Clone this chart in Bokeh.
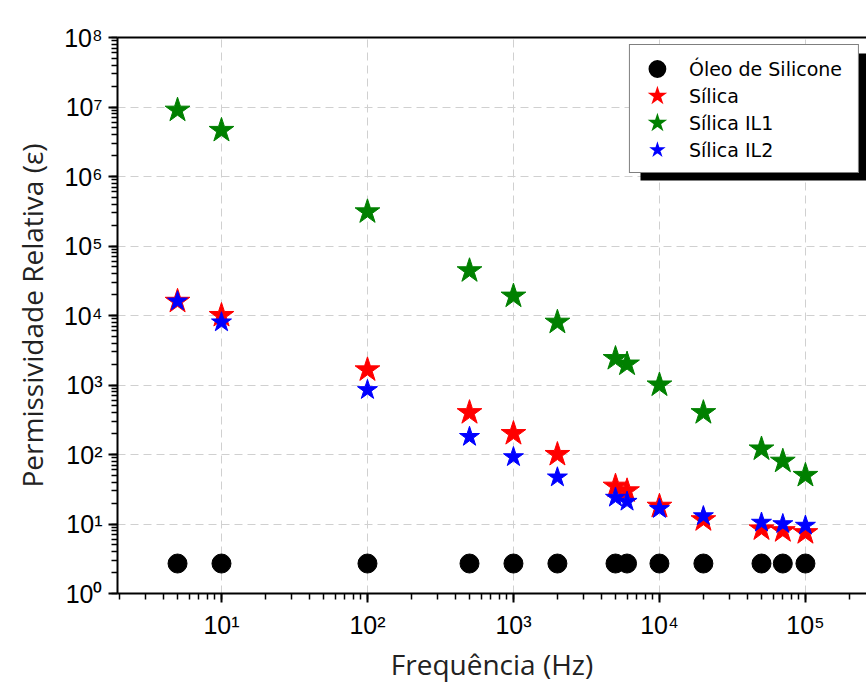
from bokeh.plotting import figure
from bokeh.models import (Legend, LegendItem, BoxAnnotation, LogAxis, LogTicker,
                          FixedTicker, CustomJSTickFormatter)
from bokeh.embed import file_html
from bokeh.resources import INLINE

freq = [5, 10, 100, 500, 1000, 2000, 5000, 6000, 10000, 20000, 50000, 70000, 100000]
oleo = [2.7] * 13
silica = [1.6e4, 1.0e4, 1650, 400, 200, 100, 35, 30, 18, 11.5, 8.5, 8.0, 7.5]
silica_il1 = [9.0e6, 4.6e6, 3.1e5, 4.4e4, 1.9e4, 8.0e3, 2.4e3, 2.0e3, 1.0e3, 400, 120, 80, 50]
silica_il2 = [1.6e4, 8.0e3, 850, 180, 92, 47, 24, 21, 16.5, 13, 10.5, 10, 9.5]
labels = ["Óleo de Silicone", "Sílica", "Sílica IL1", "Sílica IL2"]
colors = ["black", "#ff0000", "#008000", "#0000ff"]

p = figure(width=866, height=685, x_axis_type="log", y_axis_type="log",
           x_range=(1.94, 2.62e5), y_range=(1, 1e8),
           output_backend="svg", toolbar_location=None,
           min_border_left=117, min_border_right=0, min_border_top=37, min_border_bottom=91)

p.outline_line_color = None
p.background_fill_color = "white"

p.scatter(freq, oleo, marker="circle", size=19, color=colors[0])
p.scatter(freq, silica, marker="star", size=26, color=colors[1])
p.scatter(freq, silica_il1, marker="star", size=26, color=colors[2])
p.scatter(freq, silica_il2, marker="star", size=21, color=colors[3])

# hidden legend-key renderers (same data; thick outlines enlarge the legend keys)
k0 = p.scatter(freq, oleo, marker="circle", color=colors[0], line_width=7, visible=False)
k1 = p.scatter(freq, silica, marker="star", color=colors[1], line_width=3, line_join="miter", visible=False)
k2 = p.scatter(freq, silica_il1, marker="star", color=colors[2], line_width=3, line_join="miter", visible=False)
k3 = p.scatter(freq, silica_il2, marker="star", color=colors[3], line_width=2, line_join="miter", visible=False)

sup = CustomJSTickFormatter(code="""
const s = {'0':'\u2070','1':'\u00b9','2':'\u00b2','3':'\u00b3','4':'\u2074','5':'\u2075','6':'\u2076','7':'\u2077','8':'\u2078','9':'\u2079','-':'\u207b'};
const e = Math.round(Math.log10(tick));
return '10' + String(e).split('').map(c => s[c]).join('');
""")

for ax in (p.xaxis[0], p.yaxis[0]):
    ax.axis_line_width = 2
    ax.axis_line_color = "black"
    ax.major_tick_line_width = 2
    ax.minor_tick_line_width = 1.5
    ax.major_tick_in = 0
    ax.minor_tick_in = 0
    ax.major_tick_out = 9
    ax.minor_tick_out = 6
    ax.formatter = sup
    ax.major_label_text_font = "Liberation Sans"
    ax.major_label_text_font_size = "25px"
    ax.major_label_text_color = "black"
    ax.axis_label_text_font = "Open Sans"
    ax.axis_label_text_font_style = "normal"
    ax.axis_label_text_font_size = "28px"
    ax.axis_label_text_color = "#222222"

p.xaxis.ticker = LogTicker(num_minor_ticks=10)
p.yaxis.ticker = LogTicker(num_minor_ticks=10)
p.xaxis.axis_label = "Frequência (Hz)"
p.yaxis.axis_label = "Permissividade Relativa (ε)"
p.xaxis.major_label_standoff = 8
p.yaxis.major_label_standoff = 6
p.xaxis.axis_label_standoff = 3
p.yaxis.axis_label_standoff = 10

top_ax = LogAxis(ticker=FixedTicker(ticks=[]), major_tick_in=0, major_tick_out=0,
                 minor_tick_in=0, minor_tick_out=0, major_label_text_color=None,
                 axis_line_width=2, axis_line_color="black")
p.add_layout(top_ax, "above")

for g in (p.xgrid[0], p.ygrid[0]):
    g.grid_line_color = "#d0d0d0"
    g.grid_line_dash = "8 5"
    g.grid_line_width = 1

# legend drop shadow (frame-relative screen units, y measured from frame bottom)
shadow = BoxAnnotation(left=523, right=760, top=540, bottom=413,
                       left_units="screen", right_units="screen",
                       top_units="screen", bottom_units="screen",
                       fill_color="black", fill_alpha=1.0, line_color=None)
p.add_layout(shadow)

legend = Legend(items=[LegendItem(label=l, renderers=[k]) for l, k in zip(labels, [k0, k1, k2, k3])],
                location="top_right")
legend.label_text_font = "DejaVu Sans"
legend.label_text_font_size = "19px"
legend.label_text_color = "black"
legend.border_line_color = "black"
legend.border_line_width = 1
legend.background_fill_alpha = 1.0
legend.inactive_fill_alpha = 0.0
legend.margin = 7
legend.padding = dict(left=10, right=16, top=10, bottom=9)
legend.spacing = 0
legend.glyph_width = 34
legend.glyph_height = 27
legend.label_height = 27
legend.label_standoff = 15
p.add_layout(legend)

open("out.html", "w").write(file_html(p, INLINE))
